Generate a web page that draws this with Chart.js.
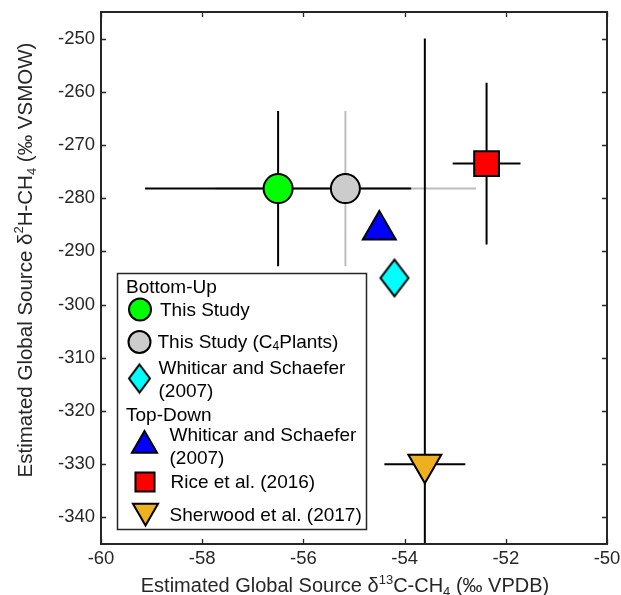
<!DOCTYPE html>
<html>
<head>
<meta charset="utf-8">
<script src="https://cdn.jsdelivr.net/npm/chart.js@4.4.1/dist/chart.umd.min.js"></script>
<style>
  body { margin: 0; background: #fff; }
</style>
</head>
<body>
<canvas id="myChart" width="621" height="595"></canvas>
<script>
var sources = ['This Study', 'This Study (C₄Plants)', 'Whiticar and Schaefer\n(2007)', 'Whiticar and Schaefer\n(2007)', 'Rice et al. (2016)', 'Sherwood et al. (2017)'];
var groups = ['Bottom-Up', 'Top-Down'];
var d13C = [-56.5, -55.17, -54.2, -54.5, -52.38, -53.6];
var dD = [-278.2, -278.2, -295, -286, -273.5, -330];
var d13CErr = [2.63, 2.58, 0, 0, 0.67, 0.8];
var dDErr = [14.6, 14.6, 0, 0, 15.2, 80];
var xTicks = [-60, -58, -56, -54, -52, -50];
var yTicks = [-340, -330, -320, -310, -300, -290, -280, -270, -260, -250];
var xTitle = 'Estimated Global Source δ¹³C-CH₄ (‰ VPDB)';
var yTitle = 'Estimated Global Source δ²H-CH₄ (‰ VSMOW)';

var FONT = "'Liberation Sans', Arial, Helvetica, sans-serif";
var AXIS = '#262626';

// taller-than-wide diamond like matlab's 'd' marker
function makeDiamond(hw, hh) {
    var c = document.createElement('canvas');
    c.width = Math.ceil(hw * 2 + 6);
    c.height = Math.ceil(hh * 2 + 8);
    var g = c.getContext('2d');
    var cx = c.width / 2, cy = c.height / 2;
    g.beginPath();
    g.moveTo(cx, cy - hh);
    g.lineTo(cx + hw, cy);
    g.lineTo(cx, cy + hh);
    g.lineTo(cx - hw, cy);
    g.closePath();
    g.fillStyle = '#00ffff';
    g.fill();
    g.lineWidth = 2;
    g.lineJoin = 'miter';
    g.strokeStyle = '#000';
    g.stroke();
    return c;
}
var diamondBig = makeDiamond(14, 18.3);
var diamondSmall = makeDiamond(10.5, 14);

// split a string into plain / superscript / subscript runs
function richParts(str) {
    var sup = {'¹': '1', '²': '2', '³': '3'};
    var sub = {'₄': '4'};
    var parts = [];
    for (var i = 0; i < str.length; i++) {
        var ch = str[i], kind = '', t = ch;
        if (sup[ch]) { kind = 'sup'; t = sup[ch]; }
        else if (sub[ch]) { kind = 'sub'; t = sub[ch]; }
        var last = parts[parts.length - 1];
        if (last && last.kind === kind) last.t += t;
        else parts.push({t: t, kind: kind});
    }
    return parts;
}

function drawRich(ctx, str, x, y, size, align) {
    var parts = richParts(str);
    var small = Math.round(size * 0.65);
    var w = 0;
    parts.forEach(function (p) {
        ctx.font = (p.kind ? small : size) + 'px ' + FONT;
        p.w = ctx.measureText(p.t).width;
        w += p.w;
    });
    var cx = align === 'center' ? x - w / 2 : x;
    parts.forEach(function (p) {
        ctx.font = (p.kind ? small : size) + 'px ' + FONT;
        var dy = p.kind === 'sup' ? -size * 0.42 : (p.kind === 'sub' ? size * 0.22 : 0);
        ctx.fillText(p.t, cx, y + dy);
        cx += p.w;
    });
}

var errorBars = {
    id: 'errorBars',
    beforeDatasetsDraw: function (chart) {
        var ctx = chart.ctx, xs = chart.scales.x, ys = chart.scales.y, a = chart.chartArea;
        ctx.save();
        ctx.beginPath();
        ctx.rect(a.left, a.top, a.right - a.left, a.bottom - a.top);
        ctx.clip();
        ctx.lineWidth = 2;
        var order = [1, 0, 2, 3, 4, 5];
        order.forEach(function (i) {
            ctx.strokeStyle = i === 1 ? '#bdbdbd' : '#000';
            var px = xs.getPixelForValue(d13C[i]), py = ys.getPixelForValue(dD[i]);
            ctx.beginPath();
            if (d13CErr[i]) {
                ctx.moveTo(xs.getPixelForValue(d13C[i] - d13CErr[i]), py);
                ctx.lineTo(xs.getPixelForValue(d13C[i] + d13CErr[i]), py);
            }
            if (dDErr[i]) {
                ctx.moveTo(px, ys.getPixelForValue(dD[i] - dDErr[i]));
                ctx.lineTo(px, ys.getPixelForValue(dD[i] + dDErr[i]));
            }
            ctx.stroke();
        });
        ctx.restore();
    }
};

var frame = {
    id: 'frame',
    afterDatasetsDraw: function (chart) {
        var ctx = chart.ctx, a = chart.chartArea, xs = chart.scales.x, ys = chart.scales.y;
        ctx.save();
        ctx.strokeStyle = AXIS;
        ctx.lineWidth = 2;
        ctx.strokeRect(a.left, a.top, a.right - a.left, a.bottom - a.top);
        ctx.lineWidth = 1.3;
        ctx.beginPath();
        xs.ticks.forEach(function (t) {
            var p = Math.round(xs.getPixelForValue(t.value)) + 0.5;
            ctx.moveTo(p, a.bottom); ctx.lineTo(p, a.bottom - 5);
            ctx.moveTo(p, a.top); ctx.lineTo(p, a.top + 5);
        });
        ys.ticks.forEach(function (t) {
            var p = Math.round(ys.getPixelForValue(t.value)) + 0.5;
            ctx.moveTo(a.left, p); ctx.lineTo(a.left + 5, p);
            ctx.moveTo(a.right, p); ctx.lineTo(a.right - 5, p);
        });
        ctx.stroke();

        // axis titles
        ctx.fillStyle = AXIS;
        ctx.textBaseline = 'alphabetic';
        drawRich(ctx, xTitle, (a.left + a.right) / 2 - 9, 592, 20, 'center');
        ctx.save();
        ctx.translate(31.5, (a.top + a.bottom) / 2 - 18);
        ctx.rotate(-Math.PI / 2);
        drawRich(ctx, yTitle, 0, 0, 20.5, 'center');
        ctx.restore();

        // legend
        var bx = 117.5, by = 273.5, bw = 249, bh = 256;
        ctx.fillStyle = '#fff';
        ctx.fillRect(bx, by, bw, bh);
        ctx.strokeStyle = AXIS;
        ctx.lineWidth = 1.5;
        ctx.strokeRect(bx, by, bw, bh);

        var ds = chart.data.datasets;
        var rows = [
            {head: groups[0], y: 14},
            {i: 0, mx: 22.5, my: 36, r: 11, tx: 42.5, ty: 37},
            {i: 1, mx: 22, my: 68.5, r: 11, tx: 40, ty: 69},
            {i: 2, mx: 22, my: 105, img: diamondSmall, tx: 41, ty: 95},
            {head: groups[1], y: 142},
            {i: 3, mx: 27, my: 172, r: 14.5, tx: 52, ty: 162},
            {i: 4, mx: 27.5, my: 208.5, r: 13.5, tx: 53, ty: 209.5},
            {i: 5, mx: 28, my: 237.5, r: 14.5, tx: 52, ty: 242}
        ];
        ctx.textBaseline = 'middle';
        rows.forEach(function (row) {
            if (row.head) {
                ctx.fillStyle = '#000';
                ctx.font = '19px ' + FONT;
                ctx.fillText(row.head, bx + 8.5, by + row.y);
                return;
            }
            var d = ds[row.i];
            ctx.fillStyle = d.backgroundColor;
            ctx.strokeStyle = '#000';
            ctx.lineWidth = 2;
            ctx.lineJoin = 'miter';
            Chart.helpers.drawPoint(ctx, {
                pointStyle: row.img || d.pointStyle,
                radius: row.r || 10,
                rotation: d.rotation || 0,
                borderWidth: 2
            }, bx + row.mx, by + row.my);
            ctx.fillStyle = '#000';
            sources[row.i].split('\n').forEach(function (line, k) {
                drawRich(ctx, line, bx + row.tx, by + row.ty + k * 23.3, 19, 'left');
            });
        });
        ctx.restore();
    }
};

function pt(i) { return [{x: d13C[i], y: dD[i]}]; }

var ctx = document.getElementById('myChart').getContext('2d');
var myChart = new Chart(ctx, {
    type: 'scatter',
    data: {
        datasets: [
            {label: sources[0], data: pt(0), backgroundColor: '#00ff00', borderColor: '#000', borderWidth: 2, pointStyle: 'circle', pointRadius: 14.5},
            {label: sources[1], data: pt(1), backgroundColor: '#cccccc', borderColor: '#000', borderWidth: 2, pointStyle: 'circle', pointRadius: 14.5},
            {label: sources[2], data: pt(2), backgroundColor: '#00ffff', borderColor: '#000', borderWidth: 2, pointStyle: diamondBig, pointRadius: 16},
            {label: sources[3], data: pt(3), backgroundColor: '#0000ff', borderColor: '#000', borderWidth: 2, pointStyle: 'triangle', pointRadius: 19},
            {label: sources[4], data: pt(4), backgroundColor: '#ff0000', borderColor: '#000', borderWidth: 2, pointStyle: 'rect', pointRadius: 17.5},
            {label: sources[5], data: pt(5), backgroundColor: '#edb120', borderColor: '#000', borderWidth: 2, pointStyle: 'triangle', rotation: 180, pointRadius: 19}
        ]
    },
    options: {
        responsive: false,
        animation: false,
        events: [],
        layout: { autoPadding: false, padding: { left: 0, top: 12, right: 14, bottom: 0 } },
        plugins: {
            legend: { display: false },
            tooltip: { enabled: false }
        },
        scales: {
            x: {
                type: 'linear',
                min: -60,
                max: -50,
                afterBuildTicks: function (scale) { scale.ticks = xTicks.map(function (v) { return {value: v}; }); },
                afterFit: function (scale) {
                    scale.height = 51;
                    scale.paddingLeft = 0; scale.paddingRight = 0;
                    scale.paddingTop = 0; scale.paddingBottom = 0;
                },
                grid: { display: false, drawTicks: false },
                border: { display: false },
                ticks: { color: AXIS, padding: 4, font: { size: 18.5, family: FONT } }
            },
            y: {
                type: 'linear',
                min: -345,
                max: -245,
                afterBuildTicks: function (scale) { scale.ticks = yTicks.map(function (v) { return {value: v}; }); },
                afterFit: function (scale) {
                    scale.width = 101;
                    scale.paddingLeft = 0; scale.paddingRight = 0;
                    scale.paddingTop = 0; scale.paddingBottom = 0;
                },
                grid: { display: false, drawTicks: false },
                border: { display: false },
                ticks: { color: AXIS, padding: 6, font: { size: 18.5, family: FONT } }
            }
        }
    },
    plugins: [errorBars, frame]
});
</script>
</body>
</html>
